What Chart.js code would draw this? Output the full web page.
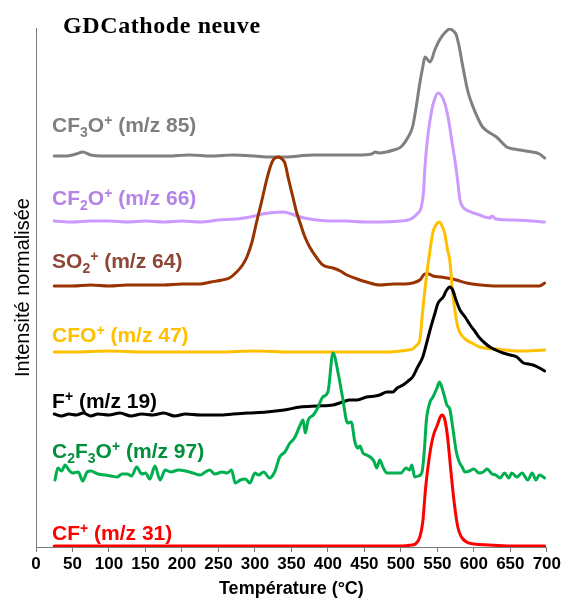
<!DOCTYPE html>
<html>
<head>
<meta charset="utf-8">
<script src="https://cdn.jsdelivr.net/npm/chart.js@4"></script>
<style>
  body { margin: 0; background: #fff; }
  #wrap { width: 562px; height: 600px; }
</style>
</head>
<body>
<div id="wrap"><canvas id="chart"></canvas></div>
<script>
// temperatures (°C) and stacked normalised intensities, one pair per ion
const cfT = [25, 100, 200, 300, 400, 500, 515, 520, 526, 530, 534, 539, 544, 550, 556, 560, 564, 568, 573, 578, 583, 590, 600, 620, 650, 697];
const cfY = [1, 1, 1, 1, 1, 1, 2, 3, 10, 25, 60, 90, 110, 122, 132, 128, 110, 80, 45, 20, 10, 5, 3, 2, 1, 1];

const c2f3oT = [26, 30, 35, 40, 45, 50, 58, 64, 70, 75, 85, 95, 103, 111, 118, 125, 131, 138, 145, 150, 156, 163, 170, 177, 185, 195, 205, 215, 225, 232, 238, 245, 255, 262, 268, 273, 280, 287, 293, 300, 305, 312, 320, 327, 334, 341, 348, 352, 355, 362, 366, 369, 373, 380, 386, 393, 400, 407, 414, 420, 427, 432, 437, 441, 444, 448, 453, 458, 463, 467, 471, 476, 481, 490, 500, 507, 512, 515, 519, 524, 529, 532, 535, 540, 544, 549, 553, 556, 560, 563, 567, 571, 576, 580, 584, 588, 594, 600, 607, 613, 618, 625, 630, 636, 642, 648, 652, 659, 666, 674, 680, 685, 690, 697];
const c2f3oY = [67, 79, 76, 82, 77, 74, 75, 66, 75, 76, 73, 72, 71, 70, 73, 73, 71, 80, 73, 74, 68, 81, 67, 77, 75, 77, 76, 74, 72, 75, 77, 73, 75, 74, 77, 64, 67, 68, 64, 74, 72, 75, 69, 75, 90, 95, 104, 107, 110, 122, 127, 114, 127, 132, 139, 150, 155, 194, 174, 150, 124, 125, 105, 99, 101, 94, 92, 90, 86, 79, 87, 79, 74, 74, 74, 79, 77, 82, 70, 71, 75, 95, 127, 145, 150, 158, 165, 160, 150, 142, 138, 120, 95, 85, 80, 75, 76, 78, 74, 75, 78, 73, 72, 69, 74, 69, 74, 70, 74, 67, 74, 67, 72, 69];

const fT = [25, 35, 45, 55, 65, 75, 85, 100, 115, 130, 145, 160, 175, 190, 205, 225, 250, 270, 290, 316, 340, 362, 385, 407, 420, 430, 440, 453, 465, 471, 481, 489, 495, 503, 510, 516, 523, 530, 535, 540, 546, 551, 558, 562, 567, 571, 576, 581, 588, 595, 602, 608, 615, 622, 630, 640, 650, 659, 668, 675, 681, 690, 697];
const fY = [133, 131, 133, 132, 134, 131, 133, 132, 134, 131, 133, 132, 134, 131, 133, 132, 132, 133, 134, 135, 137, 140, 141, 142, 145, 147, 147, 150, 151, 152, 155, 155, 159, 162, 166, 170, 180, 190, 203, 217, 232, 244, 250, 256, 260, 257, 246, 237, 230, 222, 215, 209, 204, 200, 197, 194, 192, 190, 184, 183, 182, 179, 176];

const cfoT = [25, 50, 100, 150, 200, 250, 300, 350, 400, 450, 480, 500, 510, 516, 522, 526, 530, 535, 540, 544, 548, 553, 557, 560, 564, 567, 571, 575, 578, 583, 590, 600, 608, 631, 663, 697];
const cfoY = [195, 195, 196, 195, 195, 195, 196, 195, 195, 195, 195, 196, 197, 198, 202, 207, 237, 270, 297, 315, 322, 325, 320, 314, 297, 287, 254, 232, 220, 212, 207, 203, 200, 198, 196, 197];

const so2T = [25, 50, 75, 100, 125, 150, 175, 200, 225, 240, 255, 265, 275, 283, 289, 296, 302, 309, 316, 321, 325, 332, 337, 341, 346, 352, 357, 362, 368, 375, 384, 393, 407, 417, 426, 440, 453, 471, 490, 505, 516, 526, 533, 538, 544, 555, 563, 576, 590, 610, 631, 660, 690, 697];
const so2Y = [261, 261, 262, 261, 262, 262, 262, 263, 263, 265, 267, 269, 275, 282, 290, 305, 324, 345, 367, 380, 387, 390, 388, 384, 368, 350, 335, 324, 311, 300, 290, 282, 279, 276, 272, 268, 265, 262, 263, 263, 264, 267, 273, 273, 271, 270, 269, 267, 264, 262, 261, 261, 261, 264];

const cf2oT = [25, 50, 75, 100, 125, 150, 175, 200, 225, 250, 275, 300, 310, 320, 338, 350, 362, 375, 385, 400, 425, 450, 471, 500, 510, 516, 522, 528, 531, 533, 536, 540, 545, 551, 555, 560, 564, 567, 570, 574, 578, 581, 585, 590, 600, 608, 615, 622, 625, 630, 654, 680, 697];
const cf2oY = [326, 325, 326, 326, 325, 326, 325, 326, 325, 327, 328, 331, 333, 334, 335, 333, 330, 328, 327, 326, 326, 325, 325, 326, 327, 329, 333, 340, 355, 380, 405, 427, 445, 454, 452, 444, 432, 420, 405, 387, 365, 347, 340, 337, 334, 332, 330, 329, 331, 328, 327, 326, 325];

const cf3oT = [25, 40, 55, 64, 75, 90, 120, 150, 180, 210, 240, 270, 300, 320, 340, 360, 380, 400, 420, 440, 460, 465, 470, 480, 490, 500, 510, 516, 521, 526, 530, 533, 537, 540, 547, 553, 560, 567, 572, 576, 580, 585, 592, 599, 606, 612, 620, 631, 645, 655, 663, 680, 690, 697];
const cf3oY = [391, 391, 393, 395, 392, 391, 391, 391, 391, 392, 391, 392, 391, 390, 390, 391, 392, 392, 392, 392, 393, 395, 394, 395, 397, 400, 410, 420, 440, 464, 480, 490, 487, 485, 498, 507, 514, 518, 516, 512, 500, 480, 455, 440, 428, 420, 415, 410, 400, 398, 397, 395, 393, 389];

const xTicksMax = 700;
const xTickStep = 50;

// ion names, split into [text, shift] parts: 0 normal, -1 subscript, 1 superscript
const ionLabels = [
  [['CF', 0], ['+', 1], [' (m/z 31)', 0]],
  [['C', 0], ['2', -1], ['F', 0], ['3', -1], ['O', 0], ['+', 1], [' (m/z 97)', 0]],
  [['F', 0], ['+', 1], [' (m/z 19)', 0]],
  [['CFO', 0], ['+', 1], [' (m/z 47)', 0]],
  [['SO', 0], ['2', -1], ['+', 1], [' (m/z 64)', 0]],
  [['CF', 0], ['2', -1], ['O', 0], ['+', 1], [' (m/z 66)', 0]],
  [['CF', 0], ['3', -1], ['O', 0], ['+', 1], [' (m/z 85)', 0]]
];
const labelLevels = [7, 89, 139, 205, 279, 342, 415];
const lineColors = ['#ff0000', '#00b050', '#000000', '#ffc000', '#993300', '#cc99ff', '#808080'];
const textColors = ['#ff0000', '#00903a', '#000000', '#ffc000', '#8e4636', '#b383e6', '#7f7f7f'];

function pairs(xs, ys) {
  return xs.map((x, i) => ({ x: x, y: ys[i] }));
}

const seriesData = [
  pairs(cfT, cfY),
  pairs(c2f3oT, c2f3oY),
  pairs(fT, fY),
  pairs(cfoT, cfoY),
  pairs(so2T, so2Y),
  pairs(cf2oT, cf2oY),
  pairs(cf3oT, cf3oY)
];

const labelPlugin = {
  id: 'ionLabels',
  afterDatasetsDraw(chart) {
    const ctx = chart.ctx;
    const xs = chart.scales.x, ys = chart.scales.y;
    ctx.save();
    ctx.textBaseline = 'alphabetic';
    ctx.textAlign = 'left';
    ionLabels.forEach((parts, i) => {
      let x = xs.getPixelForValue(22);
      const base = ys.getPixelForValue(labelLevels[i]);
      ctx.fillStyle = textColors[i];
      parts.forEach(p => {
        const small = p[1] !== 0;
        ctx.font = 'bold ' + (small ? 14 : 21) + 'px Arial, "Liberation Sans", sans-serif';
        const dy = p[1] === -1 ? 5 : (p[1] === 1 ? -7 : 0);
        ctx.fillText(p[0], x, base + dy);
        x += ctx.measureText(p[0]).width;
      });
    });
    // heading
    ctx.fillStyle = '#000';
    ctx.font = 'bold 24px "Liberation Serif", "Times New Roman", serif';
    ctx.letterSpacing = '0.6px';
    ctx.fillText('GDCathode neuve', 63, 33);
    ctx.restore();
  }
};

new Chart(document.getElementById('chart'), {
  type: 'line',
  data: {
    datasets: seriesData.map((d, i) => ({
      data: d,
      borderColor: lineColors[i],
      borderWidth: 3,
      pointRadius: 0,
      cubicInterpolationMode: 'monotone',
      fill: false,
      borderJoinStyle: 'round',
      borderCapStyle: 'round'
    }))
  },
  options: {
    responsive: true,
    maintainAspectRatio: false,
    animation: false,
    layout: { padding: { top: 28, right: 15, left: 0, bottom: 0 } },
    plugins: {
      legend: { display: false },
      tooltip: { enabled: false }
    },
    scales: {
      x: {
        type: 'linear',
        min: 0,
        max: xTicksMax,
        border: { display: true, color: '#7a7a7a', width: 1 },
        grid: { display: true, drawOnChartArea: false, drawTicks: true, tickLength: 5, color: '#7a7a7a' },
        ticks: {
          stepSize: xTickStep,
          autoSkip: false,
          maxRotation: 0,
          padding: 1,
          color: '#000',
          font: { family: 'Arial, "Liberation Sans", sans-serif', size: 17, weight: 'bold', lineHeight: 1.3 }
        },
        title: {
          display: true,
          text: 'Température (°C)',
          color: '#000',
          padding: 0,
          font: { family: 'Arial, "Liberation Sans", sans-serif', size: 18, weight: 'bold' }
        },
        afterFit: s => { s.height = 53; }
      },
      y: {
        min: 0,
        max: 519,
        border: { display: true, color: '#7a7a7a', width: 1 },
        grid: { display: false },
        ticks: { display: false },
        title: {
          display: true,
          text: 'Intensité normalisée',
          color: '#000',
          padding: { top: 11, bottom: 0 },
          font: { family: 'Arial, "Liberation Sans", sans-serif', size: 20 }
        },
        afterFit: s => { s.width = 36; }
      }
    }
  },
  plugins: [labelPlugin]
});
</script>
</body>
</html>
